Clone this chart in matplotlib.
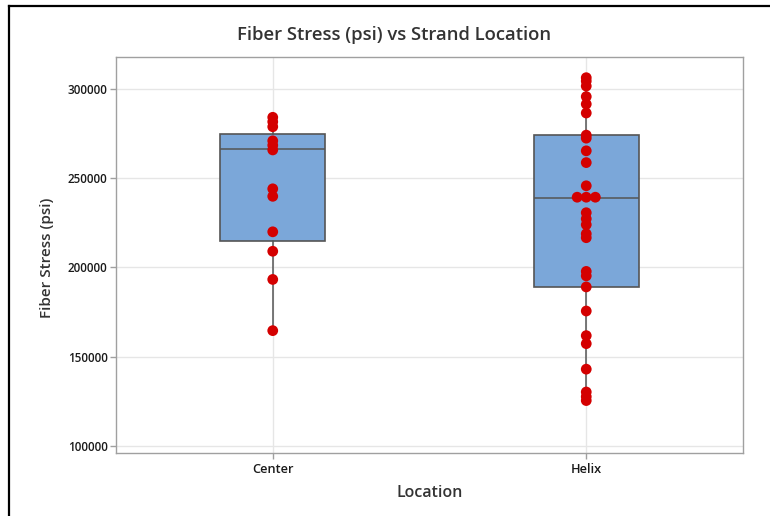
import matplotlib
matplotlib.use('Agg')
import matplotlib.pyplot as plt
from matplotlib.lines import Line2D
from collections import Counter

# data
locations = ['Center', 'Helix']
center_stress = [284200, 281700, 278900, 271000, 268500, 265900, 244100,
                 239900, 220000, 209100, 193300, 164600]
helix_stress = [306400, 304500, 301700, 295800, 291600, 286600, 274200,
                272500, 265400, 258800, 245800, 239400, 239400, 239400,
                230700, 227300, 224000, 218900, 216700, 197800, 195300,
                189100, 175600, 161800, 157300, 143000, 130200, 127600,
                125400]

# box statistics as drawn (Minitab quartiles)
q1_vals = [214700, 189000]
median_vals = [266300, 239000]
q3_vals = [274700, 274300]

W, H = 770, 516
fig = plt.figure(figsize=(W / 100, H / 100), dpi=100)
plt.rcParams['font.family'] = ['Open Sans', 'DejaVu Sans']

ax = fig.add_axes([116 / W, 1 - 453 / H, 627 / W, 396 / H])

groups = [center_stress, helix_stress]
stats = []
for loc, d, q1, med, q3 in zip(locations, groups, q1_vals, median_vals, q3_vals):
    stats.append(dict(label=loc, q1=q1, med=med, q3=q3,
                      whislo=min(d), whishi=max(d), fliers=[]))

edge = '#555555'
ax.bxp(stats, positions=[1, 2], widths=0.335, patch_artist=True,
       showcaps=False, showfliers=False,
       boxprops=dict(facecolor='#7BA7D9', edgecolor=edge, linewidth=1.2),
       medianprops=dict(color=edge, linewidth=1.1),
       whiskerprops=dict(color=edge, linewidth=1.1),
       zorder=2)

# individual points, ties spread sideways
for pos, d in zip([1, 2], groups):
    counts = Counter(d)
    seen = Counter()
    xs = []
    for v in d:
        n = counts[v]
        xs.append(pos + (seen[v] - (n - 1) / 2) * 0.029)
        seen[v] += 1
    ax.scatter(xs, d, s=60, color='#D40000', edgecolors='none', zorder=3)

ax.set_xlim(0.5, 2.5)
ax.set_ylim(96000, 318000)
ax.set_yticks([100000, 150000, 200000, 250000, 300000])
ax.set_yticklabels(['100000', '150000', '200000', '250000', '300000'])
ax.set_xticks([1, 2])
ax.set_xticklabels(locations)

ax.grid(True, color='#E6E6E6', linewidth=1, zorder=0)
ax.set_axisbelow(True)
for s in ax.spines.values():
    s.set_color('#A0A0A0')
    s.set_linewidth(1)
ax.tick_params(axis='both', colors='#A0A0A0', labelcolor='#1a1a1a',
               length=4, width=1)
ax.tick_params(axis='x', labelsize=9.2, pad=3.5)
ax.tick_params(axis='y', labelsize=8.4, pad=2)
for lbl in ax.get_xticklabels() + ax.get_yticklabels():
    lbl.set_fontweight('semibold')

fig.text(394 / W, 1 - 35 / H, 'Fiber Stress (psi) vs Strand Location',
         ha='center', va='center', fontsize=13.3, color='#333333',
         fontweight='semibold')
fig.text(47 / W, 1 - 258 / H, 'Fiber Stress (psi)', rotation=90,
         ha='center', va='center', fontsize=11, color='#333333',
         fontweight='semibold')
fig.text(430 / W, 1 - 493 / H, 'Location', ha='center', va='center',
         fontsize=11.5, color='#333333', fontweight='semibold')

# screenshot frame on top and left
fig.add_artist(Line2D([9 / W, 1], [1 - 6 / H, 1 - 6 / H],
                      transform=fig.transFigure, color='black', linewidth=1.6))
fig.add_artist(Line2D([9 / W, 9 / W], [0, 1 - 6 / H],
                      transform=fig.transFigure, color='black', linewidth=1.6))

fig.savefig('out.png', dpi=100)
